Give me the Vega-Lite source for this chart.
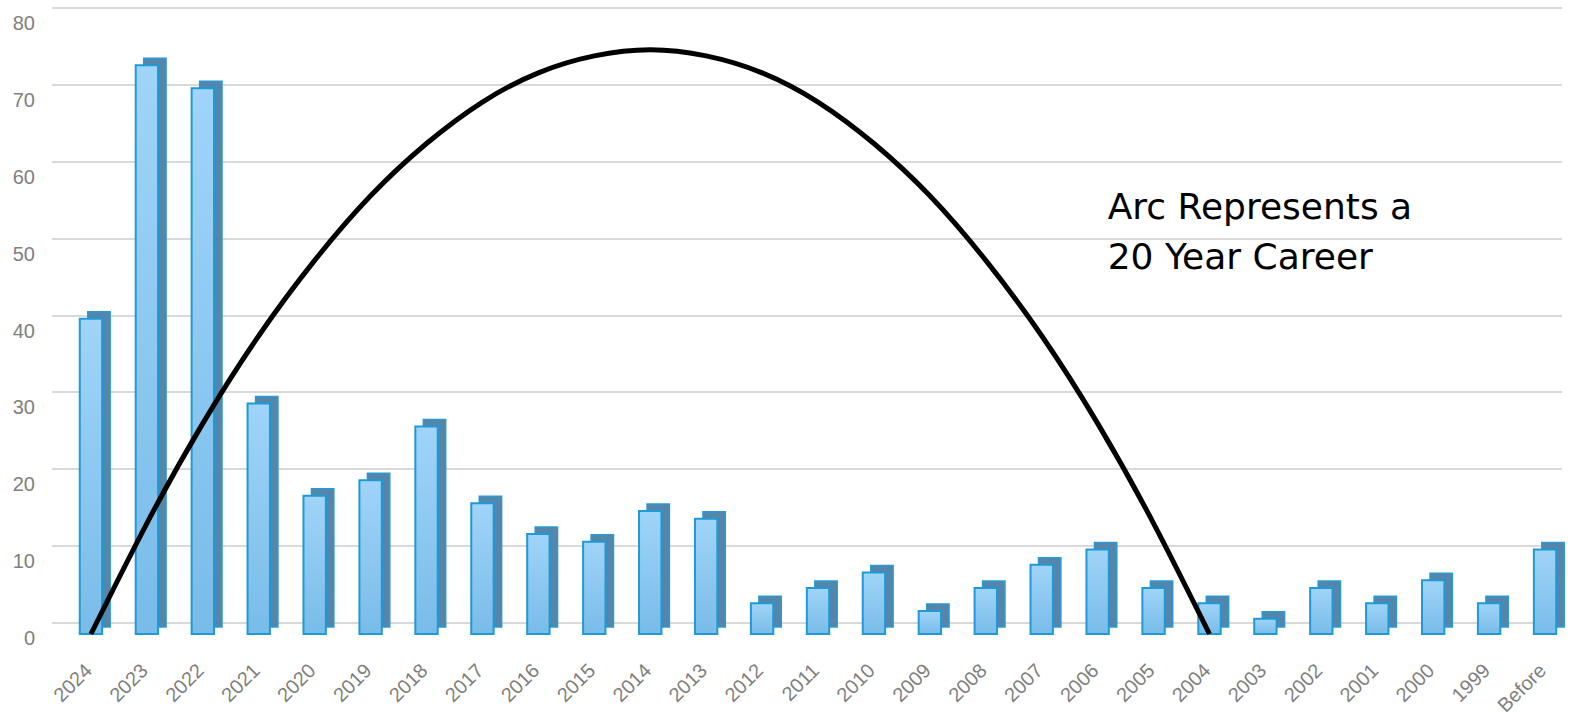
{
  "$schema": "https://vega.github.io/schema/vega-lite/v6.json",
  "width": 1510,
  "height": 615,
  "autosize": {"type": "none"},
  "padding": {"left": 63, "top": 19, "right": 2, "bottom": 82},
  "background": "white",
  "config": {"view": {"stroke": null}},
  "datasets": {
    "bars": [
      {"year": "2024", "count": 41}, {"year": "2023", "count": 74}, {"year": "2022", "count": 71},
      {"year": "2021", "count": 30}, {"year": "2020", "count": 18}, {"year": "2019", "count": 20},
      {"year": "2018", "count": 27}, {"year": "2017", "count": 17}, {"year": "2016", "count": 13},
      {"year": "2015", "count": 12}, {"year": "2014", "count": 16}, {"year": "2013", "count": 15},
      {"year": "2012", "count": 4}, {"year": "2011", "count": 6}, {"year": "2010", "count": 8},
      {"year": "2009", "count": 3}, {"year": "2008", "count": 6}, {"year": "2007", "count": 9},
      {"year": "2006", "count": 11}, {"year": "2005", "count": 6}, {"year": "2004", "count": 4},
      {"year": "2003", "count": 2}, {"year": "2002", "count": 6}, {"year": "2001", "count": 4},
      {"year": "2000", "count": 7}, {"year": "1999", "count": 4}, {"year": "Before", "count": 11}
    ],
    "arc": [
      {"year": "2024", "v": 0}, {"year": "2023", "v": 14.4}, {"year": "2022", "v": 27.4},
      {"year": "2021", "v": 38.8}, {"year": "2020", "v": 48.6}, {"year": "2019", "v": 57},
      {"year": "2018", "v": 63.8}, {"year": "2017", "v": 69.2}, {"year": "2016", "v": 73},
      {"year": "2015", "v": 75.2}, {"year": "2014", "v": 76}, {"year": "2013", "v": 75.2},
      {"year": "2012", "v": 73}, {"year": "2011", "v": 69.2}, {"year": "2010", "v": 63.8},
      {"year": "2009", "v": 57}, {"year": "2008", "v": 48.6}, {"year": "2007", "v": 38.8},
      {"year": "2006", "v": 27.4}, {"year": "2005", "v": 14.4}, {"year": "2004", "v": 0}
    ],
    "note": [
      {"year": "2006", "v": 54, "label": "Arc Represents a\n20 Year Career"}
    ]
  },
  "encoding": {
    "x": {
      "field": "year",
      "type": "nominal",
      "title": null,
      "scale": {
        "domain": ["2024","2023","2022","2021","2020","2019","2018","2017","2016","2015","2014","2013","2012","2011","2010","2009","2008","2007","2006","2005","2004","2003","2002","2001","2000","1999","Before"],
        "paddingInner": 0.6,
        "paddingOuter": 0.3
      },
      "axis": {
        "labelAngle": -45,
        "labelColor": "#808080",
        "labelFont": "Liberation Sans",
        "labelFontSize": 20,
        "labelPadding": 26,
        "labelOffset": -9,
        "domain": false,
        "ticks": false,
        "grid": false
      }
    }
  },
  "layer": [
    {
      "data": {"name": "bars"},
      "mark": {"type": "bar", "xOffset": 8, "yOffset": -7, "y2Offset": -7, "fill": "#5485aa", "stroke": "#2a9ad4", "strokeWidth": 1.5},
      "encoding": {
        "y": {
          "field": "count",
          "type": "quantitative",
          "title": null,
          "scale": {"domain": [0, 80], "nice": false},
          "axis": {
            "values": [0, 10, 20, 30, 40, 50, 60, 70, 80],
            "grid": true,
            "gridColor": "#d9d9d9",
            "gridWidth": 2,
            "domain": false,
            "ticks": false,
            "offset": -25,
            "translate": -11,
            "labelPadding": 42,
            "labelOffset": 16,
            "labelColor": "#808080",
            "labelFont": "Liberation Sans",
            "labelFontSize": 20
          }
        }
      }
    },
    {
      "data": {"name": "bars"},
      "mark": {
        "type": "bar",
        "stroke": "#1e9ad6",
        "strokeWidth": 2,
        "color": {
          "gradient": "linear",
          "x1": 0, "y1": 0, "x2": 0, "y2": 1,
          "stops": [
            {"offset": 0, "color": "#a0d4f8"},
            {"offset": 1, "color": "#79bce9"}
          ]
        }
      },
      "encoding": {
        "y": {"field": "count", "type": "quantitative"}
      }
    },
    {
      "data": {"name": "arc"},
      "mark": {"type": "line", "color": "black", "strokeWidth": 5, "interpolate": "natural"},
      "encoding": {
        "y": {"field": "v", "type": "quantitative"}
      }
    },
    {
      "data": {"name": "note"},
      "mark": {"type": "text", "align": "left", "baseline": "alphabetic", "dx": 10, "font": "DejaVu Sans", "fontSize": 36, "lineHeight": 50, "lineBreak": "\n", "color": "black"},
      "encoding": {
        "y": {"field": "v", "type": "quantitative"},
        "text": {"field": "label"}
      }
    }
  ]
}
